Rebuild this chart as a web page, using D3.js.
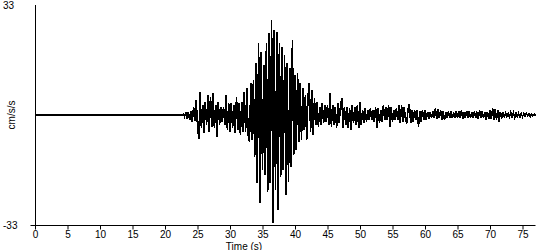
<!DOCTYPE html>
<html>
<head>
<meta charset="utf-8">
<script src="https://cdn.jsdelivr.net/npm/d3@7"></script>
<style>
  html, body { margin: 0; padding: 0; background: #fff; }
  svg { display: block; }
  text { font-family: "Liberation Sans", Arial, sans-serif; font-size: 10px; fill: #000; }
</style>
</head>
<body>
<svg id="chart" width="550" height="250"></svg>
<script>
// ---- data ----
const xTicks = [0, 5, 10, 15, 20, 25, 30, 35, 40, 45, 50, 55, 60, 65, 70, 75];
const yLabels = [33, -33];
const xDomain = [0, 77];
const yDomain = [-33, 33];
const preEventTimes = [0, 22.4];     // quiet record before the first arrival
const preEventValues = [0, 0];
const sampleStart = 22.6;            // s
const sampleInterval = 0.2;          // s
const accel = [
  0, 0.3, -0.5,
  0.8, -1.2, 1.0, -1.5, 1.3,
  -2, 2.5, -1.8, 4.5, -3,
  -7.3, 7, -4, 3, -5.5,
  4, -3, 6, -5, 5.5,
  -3.5, 6.5, -4, 3, -6.5,
  4, -3, 2.5, -2, 2.5,
  -3, 6, -4.5, 3.5, -5,
  3.5, -4, 3, -5.5, 5.5,
  -4.5, 3.5, -6, 4, -5,
  7, -5, 8, -6, -8,
  9.7, -7.5, 10.5, -12.5, 15.6,
  -20.5, 21.6, -26.4, 19, -16.5,
  15, -18, 21.6, -23, 24.6,
  -20.5, 28.5, -32.4, 25.5, -22.5,
  25, -28.5, 21.6, -18.5, 20.5,
  -16.5, 18, -24, 15.6, -20,
  14, -15.5, 22.5, -12, 12,
  -10.5, 12.5, -8, 9.6, -7.5,
  8, -4.5, 6, -7.5, 5.5,
  9.5, -5, 7.5, -6, 5,
  -3, 4, -3.5, 2.5, -3,
  3.5, -2.5, 3, -2, 3,
  -3, 6.5, -3.5, 3, -3,
  2.5, -4, 3.5, -2.5, 3,
  5, -4, 2.5, -3, 2.5,
  -4, 2, -4.5, 3, -2.5,
  2.5, -3, 3, -4, 4,
  -3, 1.5, -2.5, 2, -2,
  1.5, -1.5, 2, -1.5, 1.5,
  -2, 2.5, -4, 2, -2.5,
  1.5, -2, 3, -1.5, 2.5,
  -1.5, 3, -3.5, 2.5, -2,
  1.5, -1.5, 2, -1.5, 3,
  -2.5, 3, -2, 2.5, -1.5,
  -2.5, 2, 3.2, -2.5, 1.5,
  -2, 1.5, -1.5, 1.5, -3.5,
  1.2, -2, 1.5, -1.5, 1.5,
  -1.5, 1, -1.2, 1, -1,
  1.2, -1, 2, -1.2, 1.8,
  -1, 1.5, -1.5, 1.2, -1.5,
  1, -1, 1, -0.8, 1,
  -1, 0.8, -1, 1, -0.8,
  1.2, -1, 1.5, -1.2, 1,
  -1, 1.2, -0.8, 1, -1,
  0.8, -1, 1, -0.8, 1,
  -1.2, 1.5, -1, 1.2, -1,
  1, -1.5, 1, -1.2, 1.5,
  -1.2, 2, -1.5, 1.8, -1.5,
  1.5, -2, 1, -1, 0.5,
  -0.5, 0.6, -0.5, 0.4, -0.6,
  0.8, -0.6, 0.7, -0.8, 0.6,
  -0.5, 0.5, -0.6, 0.4, -0.5,
  0.4, -0.4, 0.5, -0.3, 0.4,
  -0.4, 0.3, -0.3, 0.3, -0.2
];
const xTitle = "Time (s)";
const yTitle = "cm/s/s";

// ---- chart ----
const svg = d3.select("#chart");
const x = d3.scaleLinear().domain(xDomain).range([35, 535.5]);
const y = d3.scaleLinear().domain(yDomain).range([225, 5]);

const points = preEventTimes.map((t, i) => [t, preEventValues[i]])
  .concat(accel.map((v, i) => [sampleStart + i * sampleInterval, v]));

svg.append("path")
  .datum(points)
  .attr("fill", "none")
  .attr("stroke", "#000")
  .attr("stroke-width", 1.6)
  .attr("shape-rendering", "crispEdges")
  .attr("d", d3.line().x(d => x(d[0])).y(d => y(d[1])));

// x axis
const xAxis = d3.axisBottom(x).tickValues(xTicks).tickSize(4).tickSizeOuter(0).tickFormat(d3.format("d"));
const gx = svg.append("g").attr("transform", `translate(0,${y(yDomain[0])})`).call(xAxis);
gx.select(".domain").attr("d", `M30.5,0.5H${x(xDomain[1])}`).attr("stroke", "#000");
gx.selectAll(".tick line").attr("stroke", "#000").attr("transform", "translate(0,0.5)");
gx.selectAll(".tick text").attr("y", 6).attr("dy", "0.71em")
  .style("font-family", '"Liberation Sans", Arial, sans-serif').style("font-size", "10px").attr("fill", "#000");

// y axis line
svg.append("line")
  .attr("x1", x(0) + 0.5).attr("x2", x(0) + 0.5)
  .attr("y1", y(yDomain[1])).attr("y2", y(yDomain[0]))
  .attr("stroke", "#000");

// y labels
svg.selectAll(".ylab").data(yLabels).enter().append("text")
  .attr("class", "ylab")
  .attr("x", 3)
  .attr("y", d => y(d) + 4)
  .text(d => d);

svg.append("text")
  .attr("transform", `translate(15,${y(0)}) rotate(-90)`)
  .attr("text-anchor", "middle")
  .text(yTitle);

svg.append("text")
  .attr("x", 244).attr("y", 249.5)
  .attr("text-anchor", "middle")
  .text(xTitle);
</script>
</body>
</html>
